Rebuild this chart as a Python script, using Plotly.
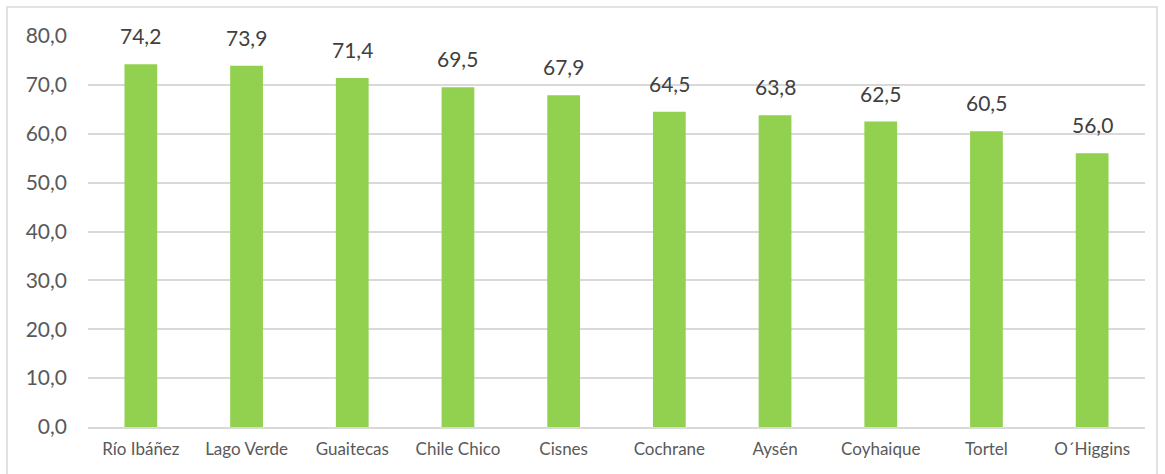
import plotly.graph_objects as go

categories = ["Río Ibáñez", "Lago Verde", "Guaitecas", "Chile Chico", "Cisnes",
              "Cochrane", "Aysén", "Coyhaique", "Tortel", "O´Higgins"]
values = [74.2, 73.9, 71.4, 69.5, 67.9, 64.5, 63.8, 62.5, 60.5, 56.0]
tick_vals = [0, 10, 20, 30, 40, 50, 60, 70, 80]
tick_text = [f"{v:.1f}".replace(".", ",") for v in tick_vals]
labels = [f"{v:.1f}".replace(".", ",") for v in values]

FONT = "Lato, Open Sans, sans-serif"

fig = go.Figure(go.Bar(
    x=categories, y=values,
    marker=dict(color="#92D050", line=dict(width=0)),
    hoverinfo="x+y",
))

W, H = 1165, 474
ml, mr, mt, mb = 88, 20, 36, 47
pw = W - ml - mr
ph = H - mt - mb

annotations = [dict(x=c, y=v, text=t, showarrow=False, xref="x", yref="y",
                    yanchor="bottom", yshift=14,
                    font=dict(size=21, color="#404040", family=FONT))
               for c, v, t in zip(categories, values, labels)]

fig.update_layout(
    width=W, height=H,
    margin=dict(l=ml, r=mr, t=mt, b=mb, autoexpand=False),
    paper_bgcolor="white", plot_bgcolor="white",
    bargap=0.69, showlegend=False,
    font=dict(family=FONT),
    annotations=annotations,
    xaxis=dict(showgrid=False, showline=True, linecolor="#D9D9D9", linewidth=1.5,
               automargin=False, ticklabelstandoff=6,
               tickfont=dict(size=17, color="#595959", family=FONT), ticks=""),
    yaxis=dict(range=[0, 80], tickvals=tick_vals, ticktext=tick_text,
               automargin=False,
               showgrid=True, gridcolor="#D9D9D9", gridwidth=1.5, zeroline=False,
               tickfont=dict(size=21, color="#595959", family=FONT), ticks="",
               ticklabelstandoff=20),
    shapes=[dict(type="rect", xref="paper", yref="paper",
                 x0=(7 - ml) / pw, x1=(1157 - ml) / pw,
                 y0=(H - mb - 480) / ph, y1=(H - mb - 7) / ph,
                 line=dict(color="#D9D9D9", width=1.5), fillcolor="rgba(0,0,0,0)",
                 layer="below")],
)

fig.write_html("out.html", config={"displayModeBar": False},
               post_script="document.body.style.margin='0';document.body.style.overflow='hidden';")
